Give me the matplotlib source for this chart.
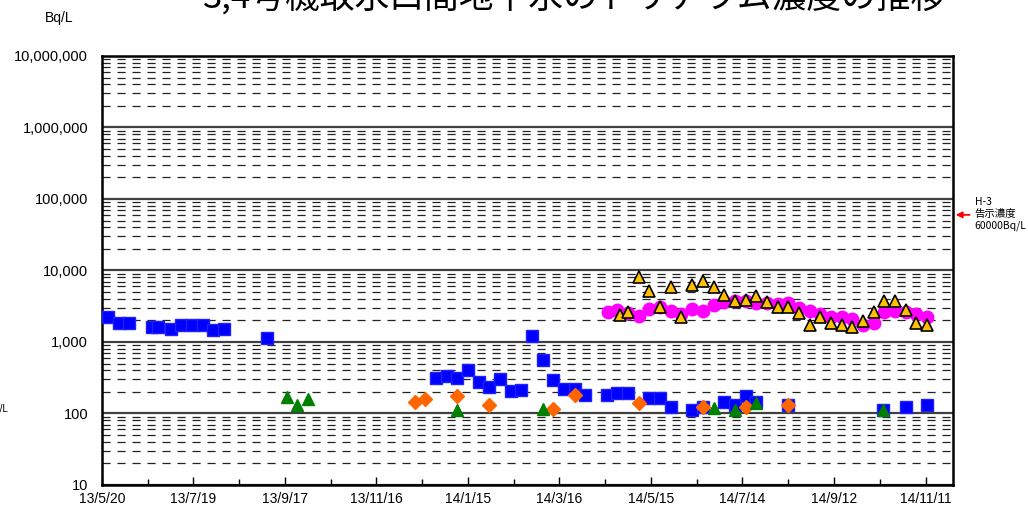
import numpy as np
import pandas as pd
import matplotlib
matplotlib.use("Agg")
import matplotlib.pyplot as plt
from matplotlib.ticker import LogLocator, FixedLocator, NullFormatter

plt.rcParams['font.family'] = ['Liberation Sans', 'Noto Sans CJK JP', 'DejaVu Sans']

title = "3,4号機取水口間地下水のトリチウム濃度の推移"

# blue squares
blue_dates = ["2013-05-24", "2013-05-31", "2013-06-07", "2013-06-22", "2013-06-26",
              "2013-07-04", "2013-07-11", "2013-07-18", "2013-07-25", "2013-08-01",
              "2013-08-08", "2013-09-05",
              "2013-12-25", "2014-01-01", "2014-01-08", "2014-01-15", "2014-01-22",
              "2014-01-29", "2014-02-05", "2014-02-12", "2014-02-19", "2014-02-26",
              "2014-03-05", "2014-03-12", "2014-03-19", "2014-03-26", "2014-04-02",
              "2014-04-16", "2014-04-23", "2014-04-30", "2014-05-14", "2014-05-21",
              "2014-05-28", "2014-06-11", "2014-06-18", "2014-07-02", "2014-07-09",
              "2014-07-16", "2014-07-23", "2014-08-13", "2014-10-14", "2014-10-29",
              "2014-11-12"]
blue_vals = [2240, 1850, 1850, 1620, 1620, 1520, 1730, 1730, 1730, 1470, 1520, 1140,
             314, 334, 314, 406, 276, 235, 304, 206, 213, 1210, 560, 294, 220, 220, 182,
             182, 194, 194, 165, 165, 123, 112, 123, 145, 131, 176, 145, 131, 112, 123, 131]

# orange diamonds
orange_dates = ["2013-12-11", "2013-12-18", "2014-01-08", "2014-01-29", "2014-03-12",
                "2014-03-26", "2014-05-07", "2014-06-18", "2014-07-16", "2014-08-13"]
orange_vals = [145, 158, 176, 131, 116, 182, 140, 123, 123, 131]

# green triangles
green_dates = ["2013-09-18", "2013-09-25", "2013-10-02", "2014-01-08", "2014-03-05",
               "2014-06-25", "2014-07-09", "2014-07-23", "2014-10-14"]
green_vals = [170, 131, 157, 112, 116, 121, 112, 140, 112]

# magenta circles
pink_dates = ["2014-04-17", "2014-04-23", "2014-04-30", "2014-05-07", "2014-05-14",
              "2014-05-21", "2014-05-28", "2014-06-04", "2014-06-11", "2014-06-18",
              "2014-06-25", "2014-07-02", "2014-07-09", "2014-07-16", "2014-07-23",
              "2014-07-30", "2014-08-06", "2014-08-13", "2014-08-20", "2014-08-27",
              "2014-09-03", "2014-09-10", "2014-09-17", "2014-09-24", "2014-10-01",
              "2014-10-08", "2014-10-15", "2014-10-22", "2014-10-29", "2014-11-05",
              "2014-11-12"]
pink_vals = [2630, 2800, 2550, 2310, 2900, 3090, 2720, 2470, 2900, 2720, 3290, 3620,
             3750, 3700, 3510, 3510, 3400, 3510, 2990, 2720, 2470, 2240, 2240, 2100,
             1730, 1840, 2630, 2720, 2630, 2470, 2240]

# yellow triangles
yellow_dates = ["2014-04-25", "2014-04-30", "2014-05-07", "2014-05-14", "2014-05-21",
                "2014-05-28", "2014-06-04", "2014-06-11", "2014-06-18", "2014-06-25",
                "2014-07-02", "2014-07-09", "2014-07-16", "2014-07-23", "2014-07-30",
                "2014-08-06", "2014-08-13", "2014-08-20", "2014-08-27", "2014-09-03",
                "2014-09-10", "2014-09-17", "2014-09-24", "2014-10-01", "2014-10-08",
                "2014-10-15", "2014-10-22", "2014-10-29", "2014-11-05", "2014-11-12"]
yellow_vals = [2390, 2630, 8100, 5160, 3090, 5870, 2240, 6270, 7130, 5870, 4540, 3750,
               3870, 4400, 3620, 3090, 3090, 2550, 1730, 2240, 1850, 1730, 1620, 1970,
               2630, 3750, 3750, 2800, 1850, 1730]

tick_dates = ["2013-05-20", "2013-07-19", "2013-09-17", "2013-11-16", "2014-01-15",
              "2014-03-16", "2014-05-15", "2014-07-14", "2014-09-12", "2014-11-11"]
tick_labels = ["13/5/20", "13/7/19", "13/9/17", "13/11/16", "14/1/15",
               "14/3/16", "14/5/15", "14/7/14", "14/9/12", "14/11/11"]
y_ticks = [10, 100, 1000, 10000, 100000, 1000000, 10000000]
limit_value = 60000

fig = plt.figure(figsize=(10.28, 5.17), dpi=100)
ax = fig.add_axes([0.0992, 0.0619, 0.8278, 0.8298])

ax.set_yscale('log')
ax.set_ylim(10, 1e7)
ax.set_xlim(pd.Timestamp("2013-05-20"), pd.Timestamp("2014-11-29"))

# gridlines
ax.yaxis.set_major_locator(FixedLocator(y_ticks))
ax.yaxis.set_minor_locator(LogLocator(base=10, subs=np.arange(2, 10)))
ax.yaxis.set_minor_formatter(NullFormatter())
ax.set_yticklabels([f"{v:,}" for v in y_ticks])
ax.grid(which='major', axis='y', color='#404040', lw=1.6, ls='-', zorder=1)
ax.grid(which='minor', axis='y', color='#222222', lw=0.9, ls=(0, (6.5, 5.5)), zorder=1)

ticks = pd.to_datetime(tick_dates)
ax.set_xticks(ticks)
ax.set_xticklabels(tick_labels)
ax.set_xticks(ticks[:-1] + (ticks[1:] - ticks[:-1]) / 2, minor=True)

ax.tick_params(axis='y', which='both', length=0, labelsize=10.5, pad=10)
ax.tick_params(axis='x', which='major', direction='in', length=6, width=1, labelsize=10, pad=5)
ax.tick_params(axis='x', which='minor', direction='in', length=4, width=1)
for sp in ax.spines.values():
    sp.set_linewidth(1.8)
    sp.set_color('black')

ax.plot(pd.to_datetime(blue_dates), blue_vals, ls='none', marker='s', ms=8,
        color='#0000FF', mec='#2020FF', zorder=3, clip_on=False)
ax.plot(pd.to_datetime(orange_dates), orange_vals, ls='none', marker='D', ms=7.5,
        color='#FF6600', mec='#FF6600', zorder=4)
ax.plot(pd.to_datetime(green_dates), green_vals, ls='none', marker='^', ms=8.5,
        color='#008000', mec='#008000', zorder=4)
ax.plot(pd.to_datetime(pink_dates), pink_vals, ls='none', marker='o', ms=9,
        color='#FF00FF', mec='#FF00FF', zorder=5)
ax.plot(pd.to_datetime(yellow_dates), yellow_vals, ls='none', marker='^', ms=8.5,
        color='#FFC000', mec='black', mew=1.2, zorder=6)

# limit arrow and note
ax.annotate('', xy=(1.0, limit_value), xycoords=('axes fraction', 'data'),
            xytext=(14, 0), textcoords='offset points',
            arrowprops=dict(arrowstyle='-|>', color='red', lw=1.3, mutation_scale=9))
fig.text(0.948, 0.586, "H-3\n告示濃度\n60000Bq/L", fontsize=7.5, ha='left', va='center',
         linespacing=1.2, family=['Noto Sans CJK JP', 'DejaVu Sans'])

fig.text(0.559, 0.986, title, fontsize=25, ha='center', va='baseline',
         family=['Noto Sans CJK JP', 'DejaVu Sans'])
fig.text(0.058, 0.965, "Bq/L", fontsize=10, ha='center', va='center')
fig.text(0.008, 0.209, "Bq/L", fontsize=7, ha='right', va='center')

fig.savefig("out.png", dpi=100)
